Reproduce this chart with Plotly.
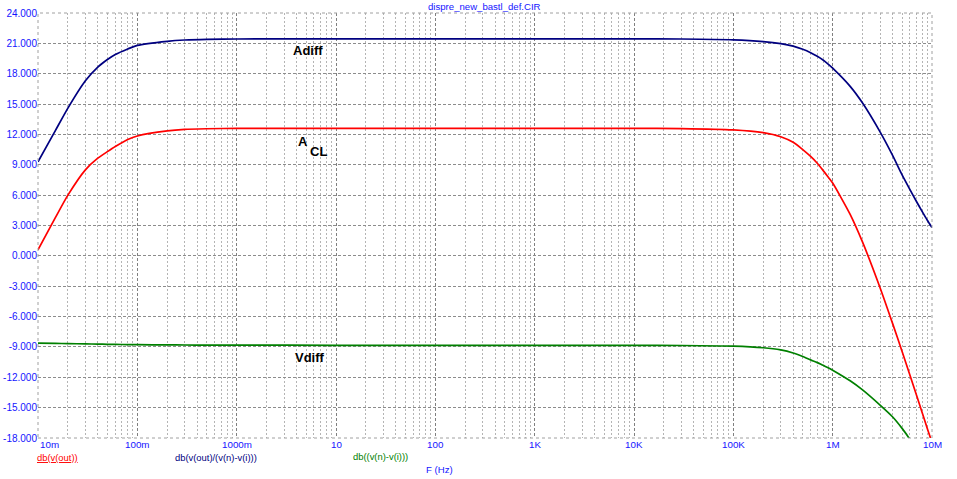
import plotly.graph_objects as go
import math

# ---- data ----
freq_hz = [0.01, 0.015, 0.02, 0.03, 0.04, 0.05, 0.06, 0.08, 0.1, 0.2, 0.3, 0.5, 1, 10, 100,
           1e3, 1e4, 3e4, 1e5, 2e5, 3e5, 4e5, 5e5, 6e5, 7e5, 8e5, 9e5, 1e6, 1.5e6, 2e6,
           3e6, 4e6, 5e6, 6e6, 7e6, 8e6, 9e6, 1e7]

adiff_db = [9.3, 12.4, 14.6, 17.3, 18.65, 19.4, 19.9, 20.45, 20.8, 21.2, 21.33, 21.4, 21.43, 21.45, 21.45,
            21.45, 21.45, 21.43, 21.35, 21.18, 20.98, 20.73, 20.42, 20.08, 19.72, 19.35, 18.95, 18.55, 16.75, 15.1,
            12.25, 9.95, 8.0, 6.55, 5.35, 4.35, 3.5, 2.8]

acl_db = [0.6, 3.8, 6.0, 8.5, 9.65, 10.3, 10.8, 11.5, 11.85, 12.35, 12.5, 12.56, 12.6, 12.6, 12.6,
          12.6, 12.6, 12.58, 12.45, 12.17, 11.77, 11.22, 10.5, 9.82, 9.15, 8.45, 7.8, 7.2, 4.1, 1.35,
          -3.15, -6.65, -9.45, -11.8, -13.8, -15.55, -17.1, -18.45]

vdiff_db = [-8.62, -8.65, -8.67, -8.7, -8.72, -8.74, -8.75, -8.77, -8.78, -8.8, -8.81, -8.82, -8.82, -8.84, -8.85,
            -8.85, -8.85, -8.86, -8.92, -9.08, -9.3, -9.6, -9.95, -10.28, -10.55, -10.82, -11.05, -11.3, -12.35, -13.25,
            -14.75, -15.9, -17.05, -18.15, -19.3, -20.4, -21.4, -22.3]

y_tick_vals = [24, 21, 18, 15, 12, 9, 6, 3, 0, -3, -6, -9, -12, -15, -18]
y_tick_text = ["24.000", "21.000", "18.000", "15.000", "12.000", "9.000", "6.000", "3.000",
               "0.000", "-3.000", "-6.000", "-9.000", "-12.000", "-15.000", "-18.000"]
x_tick_vals = [0.01, 0.1, 1, 10, 100, 1e3, 1e4, 1e5, 1e6, 1e7]
x_tick_text = ["10m", "100m", "1000m", "10", "100", "1K", "10K", "100K", "1M", "10M"]

minor_vals = [m * 10 ** k for k in range(-2, 7) for m in range(2, 10)]

# ---- layout geometry (pixels) ----
W, H = 957, 479
L, R, T, B = 38, 25, 13, 41
PW, PH = W - L - R, H - T - B


def px(x):
    return (x - L) / PW


def py(y):
    return (H - B - y) / PH


BLUE = "#1515ff"
FONT = "Liberation Sans, Arial, sans-serif"

fig = go.Figure()
for vals, col in [(adiff_db, "#000080"), (acl_db, "#ff0000"), (vdiff_db, "#008000")]:
    fig.add_trace(go.Scatter(x=freq_hz, y=vals, mode="lines",
                             line=dict(color=col, width=1.7, shape="spline", smoothing=0.6),
                             showlegend=False, hoverinfo="skip"))

fig.update_xaxes(type="log", range=[-2, 7], tickvals=x_tick_vals, showticklabels=False, ticks="",
                 showgrid=True, gridcolor="#808080", griddash="3px,2px", gridwidth=1,
                 minor=dict(tickvals=minor_vals, showgrid=True, gridcolor="#b4b4b4", griddash="2px,2px", gridwidth=1, ticks=""),
                 zeroline=False, showline=False, automargin=False)
fig.update_yaxes(range=[-18, 24], tickvals=y_tick_vals, ticktext=y_tick_text, ticks="",
                 tickfont=dict(family=FONT, size=10, color=BLUE),
                 showgrid=True, gridcolor="#8c8c8c", griddash="3px,2px", gridwidth=1,
                 zeroline=False, showline=False, automargin=False)

annotations = []
for v, t in zip(x_tick_vals, x_tick_text):
    annotations.append(dict(x=math.log10(v), xref="x", y=py(444.5), yref="paper", text=t, showarrow=False,
                            xanchor="left" if v == x_tick_vals[0] else "center", yanchor="middle",
                            font=dict(family=FONT, size=9.8, color=BLUE)))

extra = [
    dict(x=px(484), y=py(7), text="dispre_new_bastl_def.CIR", font=dict(family=FONT, size=9.6, color=BLUE)),
    dict(x=px(57.5), y=py(457.5), text="<u>db(v(out))</u>", font=dict(family=FONT, size=9.4, color="#ff0000")),
    dict(x=px(216), y=py(457.5), text="db(v(out)/(v(n)-v(i)))", font=dict(family=FONT, size=9.4, color="#000080")),
    dict(x=px(380), y=py(456.5), text="db((v(n)-v(i)))", font=dict(family=FONT, size=9.4, color="#008000")),
    dict(x=px(439), y=py(469), text="F (Hz)", font=dict(family=FONT, size=9.6, color=BLUE)),
    dict(x=px(308), y=py(51), text="<b>Adiff</b>", font=dict(family=FONT, size=13, color="#000000")),
    dict(x=px(302.5), y=py(141), text="<b>A</b>", font=dict(family=FONT, size=13, color="#000000")),
    dict(x=px(318), y=py(151.5), text="<b>CL</b>", font=dict(family=FONT, size=13, color="#000000")),
    dict(x=px(309.5), y=py(357.5), text="<b>Vdiff</b>", font=dict(family=FONT, size=13, color="#000000")),
]
for a in extra:
    a.update(xref="paper", yref="paper", showarrow=False, xanchor="center", yanchor="middle")
annotations += extra

fig.update_layout(
    width=W, height=H, autosize=False,
    margin=dict(l=L, r=R, t=T, b=B, pad=0, autoexpand=False),
    paper_bgcolor="white", plot_bgcolor="white",
    annotations=annotations,
    shapes=[dict(type="rect", xref="paper", yref="paper", x0=0, x1=1, y0=0, y1=1,
                 line=dict(color="#a0a0a0", width=1, dash="dot"), layer="above")],
    showlegend=False,
)

fig.write_html("out.html", config={"displayModeBar": False},
               post_script="document.body.style.margin='0px';document.body.style.overflow='hidden';")
